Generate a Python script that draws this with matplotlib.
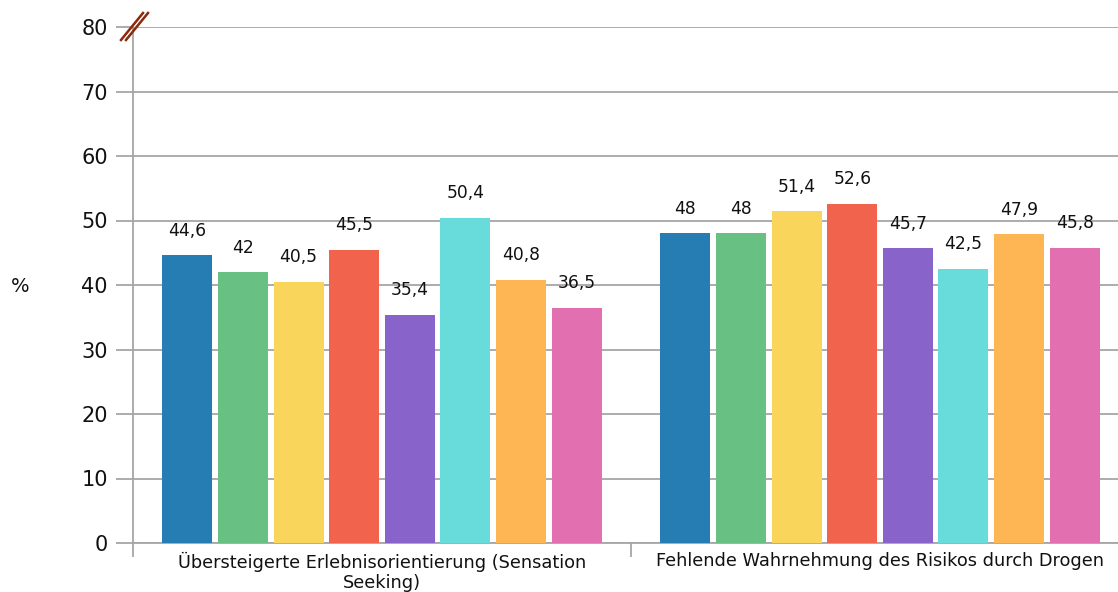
import matplotlib
matplotlib.use("Agg")
import matplotlib.pyplot as plt
import numpy as np
from matplotlib.lines import Line2D

categories = ["Übersteigerte Erlebnisorientierung (Sensation\nSeeking)",
              "Fehlende Wahrnehmung des Risikos durch Drogen"]
series_values = [
    [44.6, 48],
    [42, 48],
    [40.5, 51.4],
    [45.5, 52.6],
    [35.4, 45.7],
    [50.4, 42.5],
    [40.8, 47.9],
    [36.5, 45.8],
]
colors = ["#267db3", "#68c182", "#fad55c", "#f2634d", "#8763ca", "#68dcdb", "#feb553", "#e26fb0"]
yticks = [0, 10, 20, 30, 40, 50, 60, 70, 80]

W, H = 1118, 592
fig = plt.figure(figsize=(W / 100, H / 100), dpi=100)
left, right, top, bottom = 133, 1129, 27, 543
ax = fig.add_axes([left / W, 1 - bottom / H, (right - left) / W, (bottom - top) / H])

pitch = 55.6 / 498
bw = 50 / 498
n = len(series_values)
x = np.arange(len(categories))
for i, vals in enumerate(series_values):
    pos = x + (i - (n - 1) / 2) * pitch
    ax.bar(pos, vals, width=bw, color=colors[i], zorder=3)
    for xp, v in zip(pos, vals):
        ax.text(xp, v + 2.4, f"{v:g}".replace(".", ","), ha="center", va="bottom",
                fontsize=12.3, color="#111111", zorder=4)

grid_c = "#a6a6a6"
ax.set_xlim(-0.5, 1.5)
ax.set_ylim(0, 80)
ax.set_yticks(yticks)
ax.set_yticklabels([str(t) for t in yticks], fontsize=15, color="#111111")
ax.yaxis.grid(True, color=grid_c, linewidth=1.3, zorder=0)
ax.tick_params(axis="y", length=12, color=grid_c, width=1.3, pad=6)
ax.set_xticks([-0.5, 0.5, 1.5])
ax.set_xticklabels([])
ax.tick_params(axis="x", length=10, color=grid_c, width=1.3)
for xc, lab in zip(x, categories):
    ax.text(xc, -1.4, lab, ha="center", va="top", fontsize=12.8, color="#111111",
            transform=ax.transData, linespacing=1.1)
for s in ["top", "right"]:
    ax.spines[s].set_visible(False)
ax.spines["left"].set_color(grid_c)
ax.spines["left"].set_linewidth(1.3)
ax.spines["bottom"].set_color(grid_c)
ax.spines["bottom"].set_linewidth(1.3)

fig.text(20 / W, 1 - 286 / H, "%", ha="center", va="center", fontsize=14, color="#111111")

# axis break marks
brk = "#8b2a0a"
for dx in (0, 5):
    x0, y0, x1, y1 = 121 + dx, 40, 143 + dx, 13
    fig.add_artist(Line2D([x0 / W, x1 / W], [1 - y0 / H, 1 - y1 / H], color=brk, linewidth=1.8))

fig.savefig("out.png", dpi=100)
